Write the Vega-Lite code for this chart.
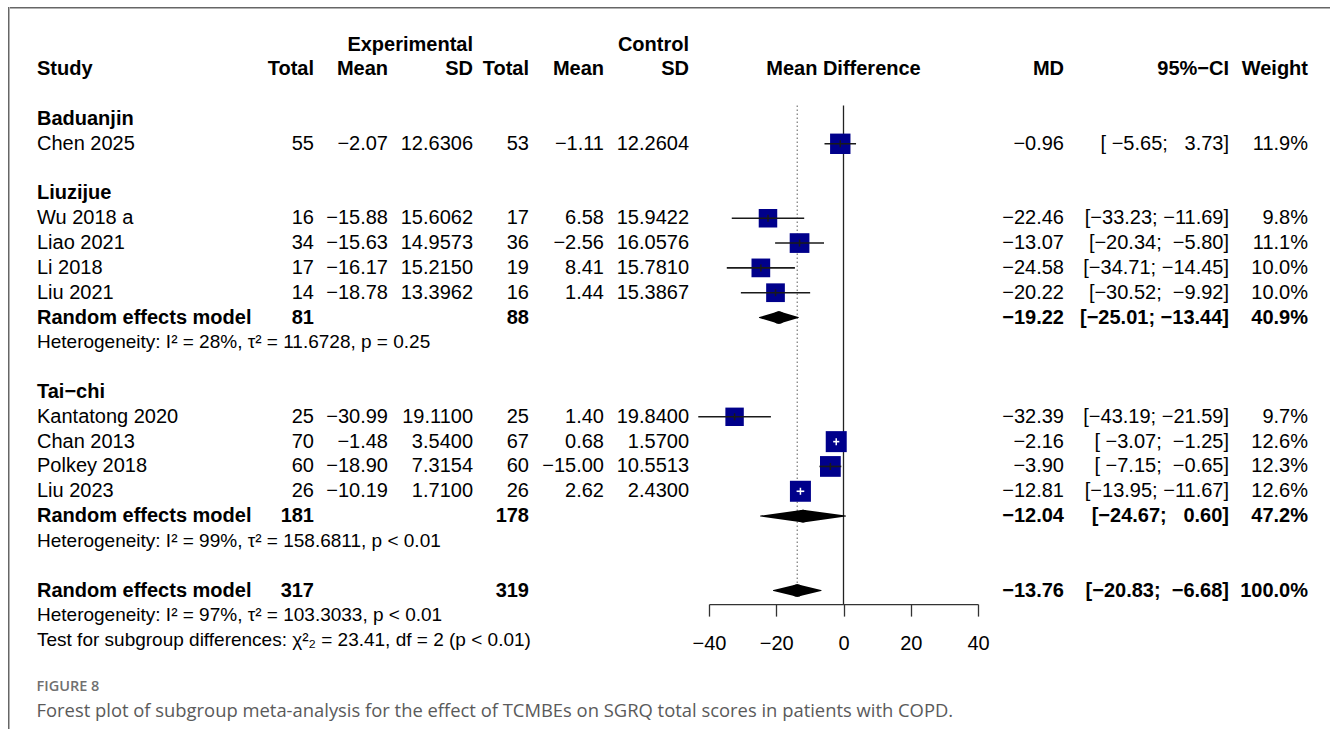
{
  "$schema": "https://vega.github.io/schema/vega-lite/v6.json",
  "padding": {"left": 8, "top": 7, "right": 0, "bottom": 0},
  "background": "white",
  "datasets": {
    "rows": [
      {"r": 3, "kind": "group", "grp": "Baduanjin", "study": "Baduanjin"},
      {"r": 4, "kind": "study", "grp": "Baduanjin", "study": "Chen 2025", "et": 55, "em": -2.07, "esd": 12.6306, "ct": 53, "cm": -1.11, "csd": 12.2604, "md": -0.96, "lo": -5.65, "hi": 3.73, "ci": "[\u00a0−5.65;\u00a0\u00a0\u00a03.73]", "w": 0.119},
      {"r": 6, "kind": "group", "grp": "Liuzijue", "study": "Liuzijue"},
      {"r": 7, "kind": "study", "grp": "Liuzijue", "study": "Wu 2018 a", "et": 16, "em": -15.88, "esd": 15.6062, "ct": 17, "cm": 6.58, "csd": 15.9422, "md": -22.46, "lo": -33.23, "hi": -11.69, "ci": "[−33.23;\u00a0−11.69]", "w": 0.098},
      {"r": 8, "kind": "study", "grp": "Liuzijue", "study": "Liao 2021", "et": 34, "em": -15.63, "esd": 14.9573, "ct": 36, "cm": -2.56, "csd": 16.0576, "md": -13.07, "lo": -20.34, "hi": -5.80, "ci": "[−20.34;\u00a0\u00a0−5.80]", "w": 0.111},
      {"r": 9, "kind": "study", "grp": "Liuzijue", "study": "Li 2018", "et": 17, "em": -16.17, "esd": 15.2150, "ct": 19, "cm": 8.41, "csd": 15.7810, "md": -24.58, "lo": -34.71, "hi": -14.45, "ci": "[−34.71;\u00a0−14.45]", "w": 0.100},
      {"r": 10, "kind": "study", "grp": "Liuzijue", "study": "Liu 2021", "et": 14, "em": -18.78, "esd": 13.3962, "ct": 16, "cm": 1.44, "csd": 15.3867, "md": -20.22, "lo": -30.52, "hi": -9.92, "ci": "[−30.52;\u00a0\u00a0−9.92]", "w": 0.100},
      {"r": 11, "kind": "pooled", "grp": "Liuzijue", "study": "Random effects model", "et": 81, "ct": 88, "md": -19.22, "lo": -25.01, "hi": -13.44, "ci": "[−25.01;\u00a0−13.44]", "w": 0.409},
      {"r": 12, "kind": "note", "grp": "Liuzijue", "study": "Heterogeneity: I² = 28%, τ² = 11.6728, p = 0.25"},
      {"r": 14, "kind": "group", "grp": "Tai−chi", "study": "Tai−chi"},
      {"r": 15, "kind": "study", "grp": "Tai−chi", "study": "Kantatong 2020", "et": 25, "em": -30.99, "esd": 19.1100, "ct": 25, "cm": 1.40, "csd": 19.8400, "md": -32.39, "lo": -43.19, "hi": -21.59, "ci": "[−43.19;\u00a0−21.59]", "w": 0.097},
      {"r": 16, "kind": "study", "grp": "Tai−chi", "study": "Chan 2013", "et": 70, "em": -1.48, "esd": 3.5400, "ct": 67, "cm": 0.68, "csd": 1.5700, "md": -2.16, "lo": -3.07, "hi": -1.25, "ci": "[\u00a0−3.07;\u00a0\u00a0−1.25]", "w": 0.126},
      {"r": 17, "kind": "study", "grp": "Tai−chi", "study": "Polkey 2018", "et": 60, "em": -18.90, "esd": 7.3154, "ct": 60, "cm": -15.00, "csd": 10.5513, "md": -3.90, "lo": -7.15, "hi": -0.65, "ci": "[\u00a0−7.15;\u00a0\u00a0−0.65]", "w": 0.123},
      {"r": 18, "kind": "study", "grp": "Tai−chi", "study": "Liu 2023", "et": 26, "em": -10.19, "esd": 1.7100, "ct": 26, "cm": 2.62, "csd": 2.4300, "md": -12.81, "lo": -13.95, "hi": -11.67, "ci": "[−13.95;\u00a0−11.67]", "w": 0.126},
      {"r": 19, "kind": "pooled", "grp": "Tai−chi", "study": "Random effects model", "et": 181, "ct": 178, "md": -12.04, "lo": -24.67, "hi": 0.60, "ci": "[−24.67;\u00a0\u00a0\u00a00.60]", "w": 0.472},
      {"r": 20, "kind": "note", "grp": "Tai−chi", "study": "Heterogeneity: I² = 99%, τ² = 158.6811, p < 0.01"},
      {"r": 22, "kind": "pooled", "grp": "Overall", "study": "Random effects model", "et": 317, "ct": 319, "md": -13.76, "lo": -20.83, "hi": -6.68, "ci": "[−20.83;\u00a0\u00a0−6.68]", "w": 1.0},
      {"r": 23, "kind": "note", "grp": "Overall", "study": "Heterogeneity: I² = 97%, τ² = 103.3033, p < 0.01"},
      {"r": 24, "kind": "note", "grp": "Overall", "study": "Test for subgroup differences: χ²₂ = 23.41, df = 2 (p < 0.01)"}
    ],
    "hdr": [
      {"r": 0, "col": "esd", "label": "Experimental"},
      {"r": 0, "col": "csd", "label": "Control"},
      {"r": 1, "col": "study", "label": "Study"},
      {"r": 1, "col": "et", "label": "Total"},
      {"r": 1, "col": "em", "label": "Mean"},
      {"r": 1, "col": "esd", "label": "SD"},
      {"r": 1, "col": "ct", "label": "Total"},
      {"r": 1, "col": "cm", "label": "Mean"},
      {"r": 1, "col": "csd", "label": "SD"},
      {"r": 1, "col": "fp", "label": "Mean Difference"},
      {"r": 1, "col": "md", "label": "MD"},
      {"r": 1, "col": "ci", "label": "95%−CI"},
      {"r": 1, "col": "w", "label": "Weight"}
    ]
  },
  "spacing": 0,
  "hconcat": [
    {
      "width": 1.5, "height": 722,
      "view": {"fill": "#666", "stroke": null},
      "data": {"values": []},
      "mark": "text",
      "encoding": {"text": {"value": ""}}
    },
    {
      "spacing": 23.1,
      "vconcat": [
        {
          "width": 1320, "height": 1.5,
          "view": {"fill": "#666", "stroke": null},
          "data": {"values": []},
          "mark": "text",
          "encoding": {"text": {"value": ""}}
        },
        {
          "spacing": 0,
          "bounds": "flush",
          "resolve": {"scale": {"x": "independent", "y": "independent", "size": "independent"}},
          "hconcat": [
            {"width": 26.5, "height": 572, "data": {"values": []}, "mark": "text", "encoding": {"text": {"value": ""}}},
            {
              "width": 217, "height": 572,
              "layer": [
                {"data": {"name": "hdr"}, "transform": [{"filter": "datum.col === 'study'"}], "mark": {"type": "text", "align": "left", "fontWeight": "bold"},
                 "encoding": {"x": {"datum": 0, "type": "quantitative", "scale": {"domain": [0, 1]}, "axis": null}, "y": {"field": "r", "type": "quantitative", "scale": {"domain": [-0.5, 22.546], "reverse": true, "nice": false, "zero": false}, "axis": null}, "text": {"field": "label"}}},
                {"data": {"name": "rows"}, "transform": [{"filter": "datum.kind === 'group' || datum.kind === 'pooled'"}], "mark": {"type": "text", "align": "left", "fontWeight": "bold"},
                 "encoding": {"x": {"datum": 0, "type": "quantitative", "scale": {"domain": [0, 1]}, "axis": null}, "y": {"field": "r", "type": "quantitative", "scale": {"domain": [-0.5, 22.546], "reverse": true, "nice": false, "zero": false}, "axis": null}, "text": {"field": "study"}}},
                {"data": {"name": "rows"}, "transform": [{"filter": "datum.kind === 'study'"}], "mark": {"type": "text", "align": "left"},
                 "encoding": {"x": {"datum": 0, "type": "quantitative", "scale": {"domain": [0, 1]}, "axis": null}, "y": {"field": "r", "type": "quantitative", "scale": {"domain": [-0.5, 22.546], "reverse": true, "nice": false, "zero": false}, "axis": null}, "text": {"field": "study"}}},
                {"data": {"name": "rows"}, "transform": [{"filter": "datum.kind === 'note'"}], "mark": {"type": "text", "align": "left", "fontSize": 19},
                 "encoding": {"x": {"datum": 0, "type": "quantitative", "scale": {"domain": [0, 1]}, "axis": null}, "y": {"field": "r", "type": "quantitative", "scale": {"domain": [-0.5, 22.546], "reverse": true, "nice": false, "zero": false}, "axis": null}, "text": {"field": "study"}}}
              ]
            },
            {
              "width": 60, "height": 572,
              "layer": [
                {"data": {"name": "hdr"}, "transform": [{"filter": "datum.col === 'et'"}], "mark": {"type": "text", "align": "right", "fontWeight": "bold"},
                 "encoding": {"x": {"datum": 1, "type": "quantitative", "scale": {"domain": [0, 1]}, "axis": null}, "y": {"field": "r", "type": "quantitative", "scale": {"domain": [-0.5, 22.546], "reverse": true, "nice": false, "zero": false}, "axis": null}, "text": {"field": "label"}}},
                {"data": {"name": "rows"}, "transform": [{"filter": "datum.kind === 'study'"}], "mark": {"type": "text", "align": "right"},
                 "encoding": {"x": {"datum": 1, "type": "quantitative", "scale": {"domain": [0, 1]}, "axis": null}, "y": {"field": "r", "type": "quantitative", "scale": {"domain": [-0.5, 22.546], "reverse": true, "nice": false, "zero": false}, "axis": null}, "text": {"field": "et", "type": "quantitative", "format": "d"}}},
                {"data": {"name": "rows"}, "transform": [{"filter": "datum.kind === 'pooled'"}], "mark": {"type": "text", "align": "right", "fontWeight": "bold"},
                 "encoding": {"x": {"datum": 1, "type": "quantitative", "scale": {"domain": [0, 1]}, "axis": null}, "y": {"field": "r", "type": "quantitative", "scale": {"domain": [-0.5, 22.546], "reverse": true, "nice": false, "zero": false}, "axis": null}, "text": {"field": "et", "type": "quantitative", "format": "d"}}}
              ]
            },
            {
              "width": 74, "height": 572,
              "layer": [
                {"data": {"name": "hdr"}, "transform": [{"filter": "datum.col === 'em'"}], "mark": {"type": "text", "align": "right", "fontWeight": "bold"},
                 "encoding": {"x": {"datum": 1, "type": "quantitative", "scale": {"domain": [0, 1]}, "axis": null}, "y": {"field": "r", "type": "quantitative", "scale": {"domain": [-0.5, 22.546], "reverse": true, "nice": false, "zero": false}, "axis": null}, "text": {"field": "label"}}},
                {"data": {"name": "rows"}, "transform": [{"filter": "datum.kind === 'study'"}], "mark": {"type": "text", "align": "right"},
                 "encoding": {"x": {"datum": 1, "type": "quantitative", "scale": {"domain": [0, 1]}, "axis": null}, "y": {"field": "r", "type": "quantitative", "scale": {"domain": [-0.5, 22.546], "reverse": true, "nice": false, "zero": false}, "axis": null}, "text": {"field": "em", "type": "quantitative", "format": ".2f"}}}
              ]
            },
            {
              "width": 85, "height": 572,
              "layer": [
                {"data": {"name": "hdr"}, "transform": [{"filter": "datum.col === 'esd'"}], "mark": {"type": "text", "align": "right", "fontWeight": "bold"},
                 "encoding": {"x": {"datum": 1, "type": "quantitative", "scale": {"domain": [0, 1]}, "axis": null}, "y": {"field": "r", "type": "quantitative", "scale": {"domain": [-0.5, 22.546], "reverse": true, "nice": false, "zero": false}, "axis": null}, "text": {"field": "label"}}},
                {"data": {"name": "rows"}, "transform": [{"filter": "datum.kind === 'study'"}], "mark": {"type": "text", "align": "right"},
                 "encoding": {"x": {"datum": 1, "type": "quantitative", "scale": {"domain": [0, 1]}, "axis": null}, "y": {"field": "r", "type": "quantitative", "scale": {"domain": [-0.5, 22.546], "reverse": true, "nice": false, "zero": false}, "axis": null}, "text": {"field": "esd", "type": "quantitative", "format": ".4f"}}}
              ]
            },
            {
              "width": 56, "height": 572,
              "layer": [
                {"data": {"name": "hdr"}, "transform": [{"filter": "datum.col === 'ct'"}], "mark": {"type": "text", "align": "right", "fontWeight": "bold"},
                 "encoding": {"x": {"datum": 1, "type": "quantitative", "scale": {"domain": [0, 1]}, "axis": null}, "y": {"field": "r", "type": "quantitative", "scale": {"domain": [-0.5, 22.546], "reverse": true, "nice": false, "zero": false}, "axis": null}, "text": {"field": "label"}}},
                {"data": {"name": "rows"}, "transform": [{"filter": "datum.kind === 'study'"}], "mark": {"type": "text", "align": "right"},
                 "encoding": {"x": {"datum": 1, "type": "quantitative", "scale": {"domain": [0, 1]}, "axis": null}, "y": {"field": "r", "type": "quantitative", "scale": {"domain": [-0.5, 22.546], "reverse": true, "nice": false, "zero": false}, "axis": null}, "text": {"field": "ct", "type": "quantitative", "format": "d"}}},
                {"data": {"name": "rows"}, "transform": [{"filter": "datum.kind === 'pooled'"}], "mark": {"type": "text", "align": "right", "fontWeight": "bold"},
                 "encoding": {"x": {"datum": 1, "type": "quantitative", "scale": {"domain": [0, 1]}, "axis": null}, "y": {"field": "r", "type": "quantitative", "scale": {"domain": [-0.5, 22.546], "reverse": true, "nice": false, "zero": false}, "axis": null}, "text": {"field": "ct", "type": "quantitative", "format": "d"}}}
              ]
            },
            {
              "width": 75, "height": 572,
              "layer": [
                {"data": {"name": "hdr"}, "transform": [{"filter": "datum.col === 'cm'"}], "mark": {"type": "text", "align": "right", "fontWeight": "bold"},
                 "encoding": {"x": {"datum": 1, "type": "quantitative", "scale": {"domain": [0, 1]}, "axis": null}, "y": {"field": "r", "type": "quantitative", "scale": {"domain": [-0.5, 22.546], "reverse": true, "nice": false, "zero": false}, "axis": null}, "text": {"field": "label"}}},
                {"data": {"name": "rows"}, "transform": [{"filter": "datum.kind === 'study'"}], "mark": {"type": "text", "align": "right"},
                 "encoding": {"x": {"datum": 1, "type": "quantitative", "scale": {"domain": [0, 1]}, "axis": null}, "y": {"field": "r", "type": "quantitative", "scale": {"domain": [-0.5, 22.546], "reverse": true, "nice": false, "zero": false}, "axis": null}, "text": {"field": "cm", "type": "quantitative", "format": ".2f"}}}
              ]
            },
            {
              "width": 85, "height": 572,
              "layer": [
                {"data": {"name": "hdr"}, "transform": [{"filter": "datum.col === 'csd'"}], "mark": {"type": "text", "align": "right", "fontWeight": "bold"},
                 "encoding": {"x": {"datum": 1, "type": "quantitative", "scale": {"domain": [0, 1]}, "axis": null}, "y": {"field": "r", "type": "quantitative", "scale": {"domain": [-0.5, 22.546], "reverse": true, "nice": false, "zero": false}, "axis": null}, "text": {"field": "label"}}},
                {"data": {"name": "rows"}, "transform": [{"filter": "datum.kind === 'study'"}], "mark": {"type": "text", "align": "right"},
                 "encoding": {"x": {"datum": 1, "type": "quantitative", "scale": {"domain": [0, 1]}, "axis": null}, "y": {"field": "r", "type": "quantitative", "scale": {"domain": [-0.5, 22.546], "reverse": true, "nice": false, "zero": false}, "axis": null}, "text": {"field": "csd", "type": "quantitative", "format": ".4f"}}}
              ]
            },
            {"width": 20, "height": 572, "data": {"values": []}, "mark": "text", "encoding": {"text": {"value": ""}}},
            {
              "width": 269, "height": 572,
              "layer": [
                {"data": {"name": "hdr"}, "transform": [{"filter": "datum.col === 'fp'"}], "mark": {"type": "text", "align": "center", "fontWeight": "bold"},
                 "encoding": {"x": {"datum": 0, "type": "quantitative", "scale": {"domain": [-40, 40], "nice": false, "zero": false}, "axis": {"title": null, "values": [-40, -20, 0, 20, 40], "format": "d"}}, "y": {"field": "r", "type": "quantitative", "scale": {"domain": [-0.5, 22.546], "reverse": true, "nice": false, "zero": false}, "axis": null}, "text": {"field": "label"}}},
                {"data": {"values": [{}]}, "mark": {"type": "rule", "color": "#222", "strokeWidth": 1.3},
                 "encoding": {"x": {"datum": 0, "type": "quantitative", "axis": {"title": null, "values": [-40, -20, 0, 20, 40], "format": "d"}}, "y": {"datum": 2.46, "type": "quantitative", "axis": null}, "y2": {"datum": 22.546}}},
                {"data": {"name": "rows"}, "transform": [{"filter": "datum.kind === 'pooled' && datum.grp === 'Overall'"}], "mark": {"type": "rule", "color": "#777", "strokeWidth": 1.2, "strokeDash": [1.5, 2.5]},
                 "encoding": {"x": {"field": "md", "type": "quantitative", "axis": {"title": null, "values": [-40, -20, 0, 20, 40], "format": "d"}}, "y": {"datum": 2.46, "type": "quantitative", "axis": null}, "y2": {"datum": 21.72}}},
                {"data": {"name": "rows"}, "transform": [{"filter": "datum.kind === 'study'"}], "mark": {"type": "point", "shape": "square", "filled": true, "color": "#00008B", "opacity": 1, "strokeWidth": 0},
                 "encoding": {"x": {"field": "md", "type": "quantitative", "axis": {"title": null, "values": [-40, -20, 0, 20, 40], "format": "d"}}, "y": {"field": "r", "type": "quantitative", "axis": null}, "size": {"field": "w", "type": "quantitative", "scale": {"domain": [0, 0.126], "range": [0, 441], "zero": true}, "legend": null}}},
                {"data": {"name": "rows"}, "transform": [{"filter": "datum.kind === 'study'"}], "mark": {"type": "rule", "strokeWidth": 1.6},
                 "encoding": {"x": {"field": "lo", "type": "quantitative", "axis": {"title": null, "values": [-40, -20, 0, 20, 40], "format": "d"}}, "x2": {"field": "hi"}, "y": {"field": "r", "type": "quantitative", "axis": null},
                              "color": {"condition": {"test": "datum.hi - datum.lo < 5", "value": "white"}, "value": "#1a1a1a"}}},
                {"data": {"name": "rows"}, "transform": [{"filter": "datum.kind === 'study'"}], "mark": {"type": "tick", "orient": "vertical", "size": 7, "thickness": 1.5, "opacity": 1},
                 "encoding": {"x": {"field": "md", "type": "quantitative", "axis": {"title": null, "values": [-40, -20, 0, 20, 40], "format": "d"}}, "y": {"field": "r", "type": "quantitative", "axis": null},
                              "color": {"condition": {"test": "datum.hi - datum.lo < 5", "value": "white"}, "value": "#1a1a1a"}}},
                {"data": {"name": "rows"}, "transform": [{"filter": "datum.kind === 'pooled'"}, {"fold": ["lo", "md"], "as": ["k", "v"]}], "mark": {"type": "trail", "color": "#000", "opacity": 1},
                 "encoding": {"x": {"field": "v", "type": "quantitative", "axis": {"title": null, "values": [-40, -20, 0, 20, 40], "format": "d"}}, "y": {"field": "r", "type": "quantitative", "axis": null},
                              "detail": {"field": "r", "type": "nominal"}, "order": {"field": "v", "type": "quantitative"},
                              "size": {"field": "k", "type": "ordinal", "scale": {"type": "point", "domain": ["lo", "md"], "range": [0, 12.6], "padding": 0}, "legend": null}}},
                {"data": {"name": "rows"}, "transform": [{"filter": "datum.kind === 'pooled'"}, {"fold": ["md", "hi"], "as": ["k", "v"]}], "mark": {"type": "trail", "color": "#000", "opacity": 1},
                 "encoding": {"x": {"field": "v", "type": "quantitative", "axis": {"title": null, "values": [-40, -20, 0, 20, 40], "format": "d"}}, "y": {"field": "r", "type": "quantitative", "axis": null},
                              "detail": {"field": "r", "type": "nominal"}, "order": {"field": "v", "type": "quantitative"},
                              "size": {"field": "k", "type": "ordinal", "scale": {"type": "point", "domain": ["hi", "md"], "range": [0, 12.6], "padding": 0}, "legend": null}}}
              ],
              "resolve": {"scale": {"size": "independent"}}
            },
            {
              "width": 86, "height": 572,
              "layer": [
                {"data": {"name": "hdr"}, "transform": [{"filter": "datum.col === 'md'"}], "mark": {"type": "text", "align": "right", "fontWeight": "bold"},
                 "encoding": {"x": {"datum": 1, "type": "quantitative", "scale": {"domain": [0, 1]}, "axis": null}, "y": {"field": "r", "type": "quantitative", "scale": {"domain": [-0.5, 22.546], "reverse": true, "nice": false, "zero": false}, "axis": null}, "text": {"field": "label"}}},
                {"data": {"name": "rows"}, "transform": [{"filter": "datum.kind === 'study'"}], "mark": {"type": "text", "align": "right"},
                 "encoding": {"x": {"datum": 1, "type": "quantitative", "scale": {"domain": [0, 1]}, "axis": null}, "y": {"field": "r", "type": "quantitative", "scale": {"domain": [-0.5, 22.546], "reverse": true, "nice": false, "zero": false}, "axis": null}, "text": {"field": "md", "type": "quantitative", "format": ".2f"}}},
                {"data": {"name": "rows"}, "transform": [{"filter": "datum.kind === 'pooled'"}], "mark": {"type": "text", "align": "right", "fontWeight": "bold"},
                 "encoding": {"x": {"datum": 1, "type": "quantitative", "scale": {"domain": [0, 1]}, "axis": null}, "y": {"field": "r", "type": "quantitative", "scale": {"domain": [-0.5, 22.546], "reverse": true, "nice": false, "zero": false}, "axis": null}, "text": {"field": "md", "type": "quantitative", "format": ".2f"}}}
              ]
            },
            {
              "width": 165, "height": 572,
              "layer": [
                {"data": {"name": "hdr"}, "transform": [{"filter": "datum.col === 'ci'"}], "mark": {"type": "text", "align": "right", "fontWeight": "bold"},
                 "encoding": {"x": {"datum": 1, "type": "quantitative", "scale": {"domain": [0, 1]}, "axis": null}, "y": {"field": "r", "type": "quantitative", "scale": {"domain": [-0.5, 22.546], "reverse": true, "nice": false, "zero": false}, "axis": null}, "text": {"field": "label"}}},
                {"data": {"name": "rows"}, "transform": [{"filter": "datum.kind === 'study'"}], "mark": {"type": "text", "align": "right"},
                 "encoding": {"x": {"datum": 1, "type": "quantitative", "scale": {"domain": [0, 1]}, "axis": null}, "y": {"field": "r", "type": "quantitative", "scale": {"domain": [-0.5, 22.546], "reverse": true, "nice": false, "zero": false}, "axis": null}, "text": {"field": "ci"}}},
                {"data": {"name": "rows"}, "transform": [{"filter": "datum.kind === 'pooled'"}], "mark": {"type": "text", "align": "right", "fontWeight": "bold"},
                 "encoding": {"x": {"datum": 1, "type": "quantitative", "scale": {"domain": [0, 1]}, "axis": null}, "y": {"field": "r", "type": "quantitative", "scale": {"domain": [-0.5, 22.546], "reverse": true, "nice": false, "zero": false}, "axis": null}, "text": {"field": "ci"}}}
              ]
            },
            {
              "width": 79, "height": 572,
              "layer": [
                {"data": {"name": "hdr"}, "transform": [{"filter": "datum.col === 'w'"}], "mark": {"type": "text", "align": "right", "fontWeight": "bold"},
                 "encoding": {"x": {"datum": 1, "type": "quantitative", "scale": {"domain": [0, 1]}, "axis": null}, "y": {"field": "r", "type": "quantitative", "scale": {"domain": [-0.5, 22.546], "reverse": true, "nice": false, "zero": false}, "axis": null}, "text": {"field": "label"}}},
                {"data": {"name": "rows"}, "transform": [{"filter": "datum.kind === 'study'"}], "mark": {"type": "text", "align": "right"},
                 "encoding": {"x": {"datum": 1, "type": "quantitative", "scale": {"domain": [0, 1]}, "axis": null}, "y": {"field": "r", "type": "quantitative", "scale": {"domain": [-0.5, 22.546], "reverse": true, "nice": false, "zero": false}, "axis": null}, "text": {"field": "w", "type": "quantitative", "format": ".1%"}}},
                {"data": {"name": "rows"}, "transform": [{"filter": "datum.kind === 'pooled'"}], "mark": {"type": "text", "align": "right", "fontWeight": "bold"},
                 "encoding": {"x": {"datum": 1, "type": "quantitative", "scale": {"domain": [0, 1]}, "axis": null}, "y": {"field": "r", "type": "quantitative", "scale": {"domain": [-0.5, 22.546], "reverse": true, "nice": false, "zero": false}, "axis": null}, "text": {"field": "w", "type": "quantitative", "format": ".1%"}}}
              ]
            }
          ]
        },
        {
          "width": 900, "height": 1,
          "data": {"values": []},
          "mark": "text",
          "encoding": {"text": {"value": ""}},
          "title": {
            "text": "FIGURE 8",
            "subtitle": "Forest plot of subgroup meta-analysis for the effect of TCMBEs on SGRQ total scores in patients with COPD.",
            "orient": "bottom", "anchor": "start", "offset": 2.5, "dx": 26.5,
            "font": "Open Sans", "fontSize": 14.5, "fontWeight": 600, "color": "#707070",
            "subtitleFont": "Open Sans", "subtitleFontSize": 18.4, "subtitleColor": "#5a5a5a", "subtitlePadding": 8
          }
        }
      ]
    }
  ],
  "config": {
    "view": {"stroke": null},
    "text": {"font": "Liberation Sans", "fontSize": 20, "baseline": "middle", "color": "#000"},
    "axis": {
      "grid": false, "labelFont": "Liberation Sans", "labelFontSize": 20, "labelColor": "#000",
      "tickSize": 12, "labelPadding": 17, "domainColor": "#333", "tickColor": "#333",
      "domainWidth": 1.3, "tickWidth": 1.3, "labelFlush": false, "labelOverlap": false
    }
  }
}
